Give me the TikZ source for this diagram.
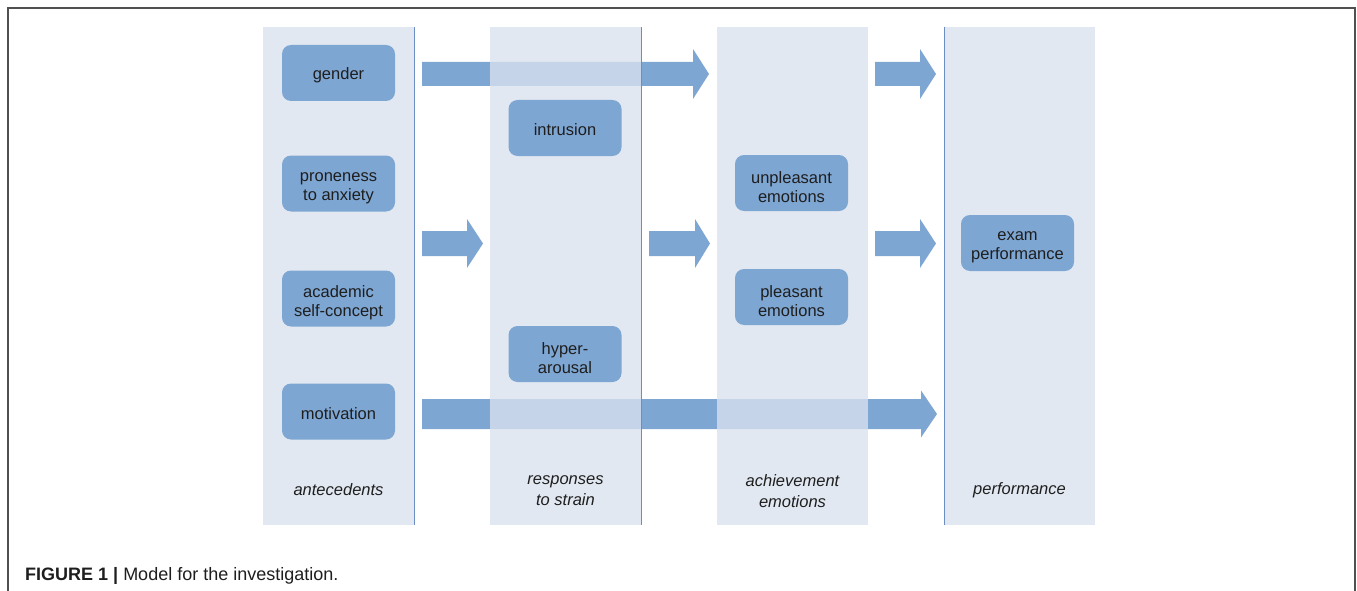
\documentclass[tikz,border=0pt]{standalone}
\usepackage{fontspec}
\setmainfont{Liberation Sans}
\definecolor{boxblue}{RGB}{126,166,211}
\definecolor{colfill}{RGB}{217,226,238}
\definecolor{colline}{RGB}{108,142,194}
\definecolor{txt}{RGB}{30,30,30}
\definecolor{frame}{RGB}{80,80,80}
\tikzset{
  colbox/.style={fill=colfill, fill opacity=0.78, draw=none},
  colrule/.style={draw=colline, line width=0.9pt},
  factor/.style={fill=boxblue, draw=none, rounded corners=9pt, minimum width=113pt, minimum height=56pt, inner sep=0pt},
  factortext/.style={align=center, text=txt, font=\fontsize{16.5}{19}\selectfont, inner sep=0pt},
  collabel/.style={align=center, text=txt, font=\fontsize{16.5}{21}\selectfont\itshape},
  blockarrow/.style={fill=boxblue, draw=none}
}
\newcommand{\blockarr}[7]{% x1, x2, headstart, yc, shafthalf, headhalf, name
  \path[blockarrow] (#1,#4-#5) -- (#3,#4-#5) -- (#3,#4-#6) -- (#2,#4) -- (#3,#4+#6) -- (#3,#4+#5) -- (#1,#4+#5) -- cycle;
  \coordinate (#7) at (#2,#4);
}
\newcommand{\factorbox}[4]{% name, x, y, text (yshift chosen by lines)
  \node[factor] (#1) at (#2,#3) {};
  \node[factortext] (#1-t) at (#1.center) {#4};
}
\begin{document}
\begin{tikzpicture}[x=1pt,y=-1pt]
\useasboundingbox (0,0) rectangle (1357,591);
% frame
\draw[frame, line width=1.2pt] (8,591) -- (8,8) -- (1355,8) -- (1355,591);
% block arrows (under the columns)
\blockarr{422}{709}{693}{74}{12}{25}{a1}
\blockarr{875}{936}{920}{74}{12}{25}{a2}
\blockarr{422}{483}{467}{243.5}{12.5}{24.5}{a3}
\blockarr{649}{710}{695}{243.5}{12.5}{24.5}{a4}
\blockarr{875}{936}{920}{243.5}{12.5}{24.5}{a5}
\blockarr{422}{937}{921}{414}{15}{23.5}{a6}
% columns
\path[colbox] (263,27) rectangle (414,525);
\path[colbox] (490,27) rectangle (641,525);
\path[colbox] (717,27) rectangle (868,525);
\path[colbox] (944,27) rectangle (1095,525);
\draw[colrule] (414,27) -- (414,525);
\draw[colrule] (641,27) -- (641,525);
\draw[colrule] (944,27) -- (944,525);
% factor boxes
\node[factor] (gender) at (338.5,73) {};
\node[factortext, yshift=-2pt] at (gender) {gender};
\node[factor] (prone) at (338.5,183.5) {};
\node[factortext, yshift=-4.5pt] at (prone) {proneness\\to anxiety};
\node[factor] (self) at (338.5,298.5) {};
\node[factortext, yshift=-4.5pt] at (self) {academic\\self-concept};
\node[factor] (motiv) at (338.5,411.5) {};
\node[factortext, yshift=-2pt] at (motiv) {motivation};
\node[factor] (intr) at (565,128) {};
\node[factortext, yshift=-2pt] at (intr) {intrusion};
\node[factor] (hyper) at (565,354) {};
\node[factortext, yshift=-4.5pt] at (hyper) {hyper-\\arousal};
\node[factor] (unpl) at (791.5,183) {};
\node[factortext, yshift=-4.5pt] at (unpl) {unpleasant\\emotions};
\node[factor] (plea) at (791.5,297) {};
\node[factortext, yshift=-4.5pt] at (plea) {pleasant\\emotions};
\node[factor] (exam) at (1017.5,243) {};
\node[factortext, yshift=-4.5pt] at (exam) {exam\\performance};
% column labels
\node[collabel] (l1) at (338.5,490) {antecedents};
\node[collabel, yshift=-2pt] (l2) at (565.5,489) {responses\\to strain};
\node[collabel, yshift=-2pt] (l3) at (792.5,489) {achievement\\emotions};
\node[collabel] (l4) at (1019.5,490) {performance};
% caption
\node[anchor=base west, inner sep=0pt, text=txt, font=\fontsize{18}{20}\selectfont] (cap) at (25,580) {\textbf{FIGURE 1 |} Model for the investigation.};
\end{tikzpicture}
\end{document}
